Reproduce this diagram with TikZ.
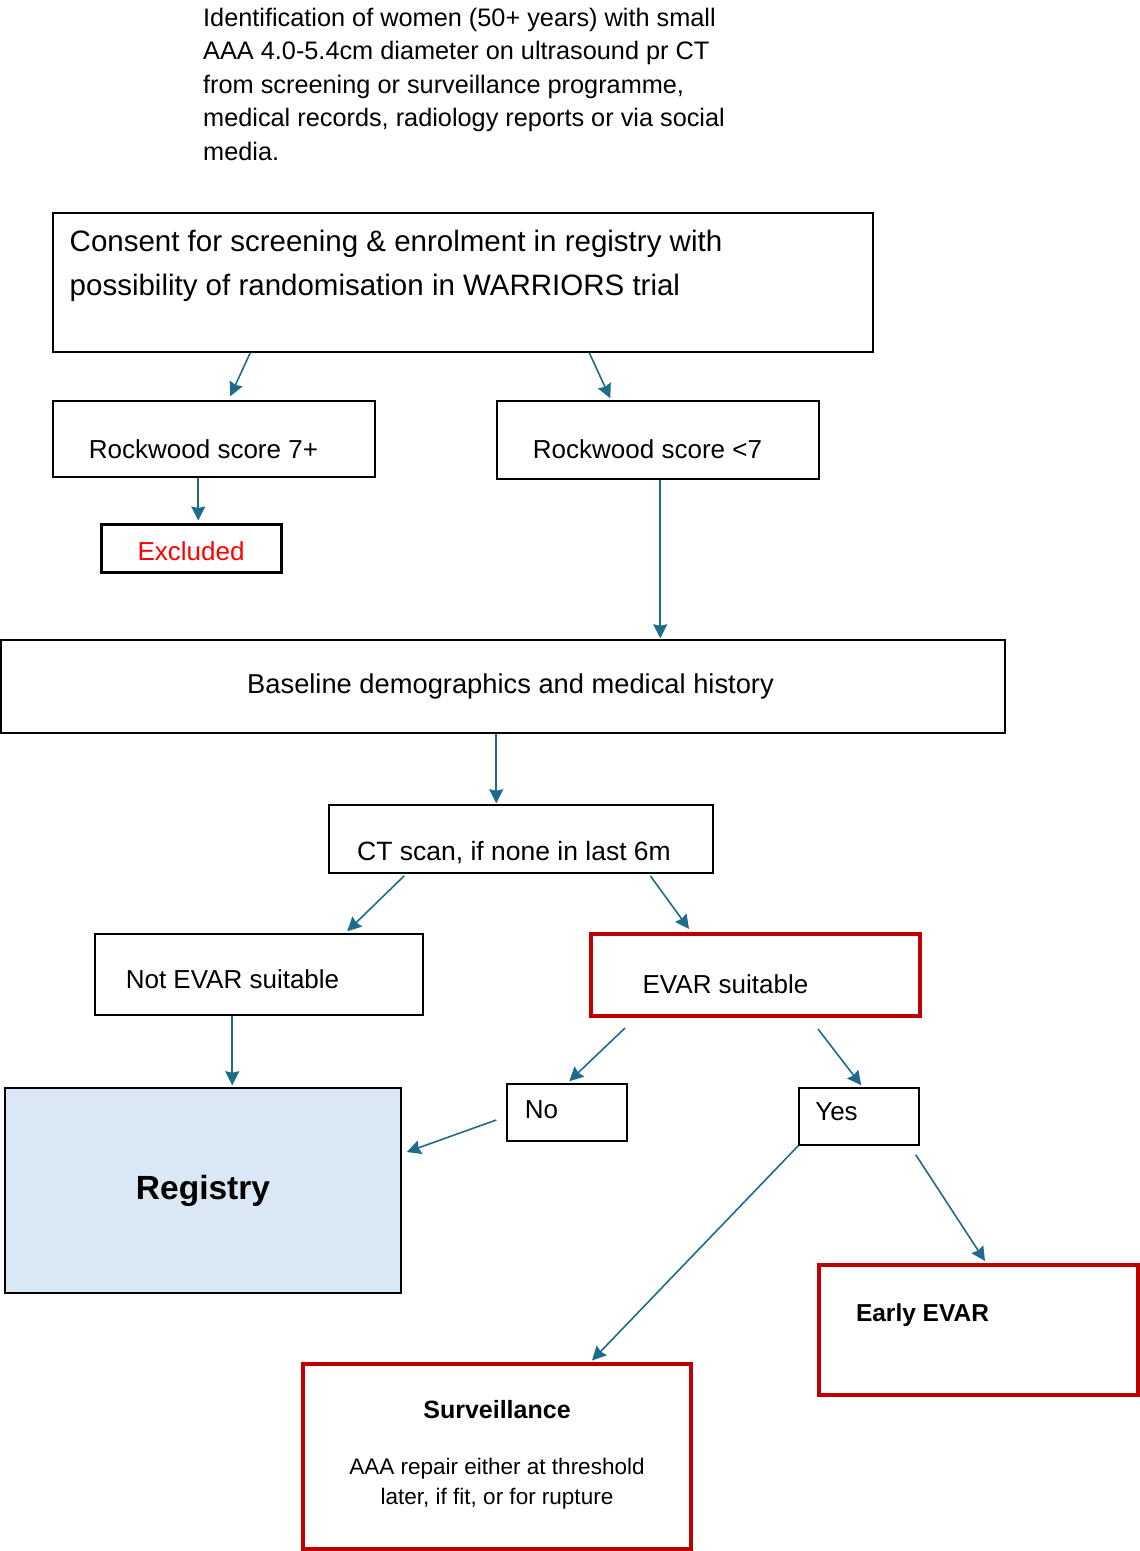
\documentclass[tikz,border=0pt]{standalone}
\usepackage{fontspec}
\setmainfont{Liberation Sans}
\usetikzlibrary{arrows.meta,positioning}

\definecolor{linkc}{HTML}{1F6B8C}
\definecolor{warnred}{HTML}{C00000}
\definecolor{regfill}{HTML}{DAE8F5}

\begin{document}
\begin{tikzpicture}[x=1pt,y=-1pt,>={Stealth[length=14pt,width=14pt,inset=1.5pt]}]
        \tikzstyle{box}=[rectangle,draw=black,line width=1.5pt,inner sep=0pt]
        \tikzstyle{redbox}=[rectangle,draw=warnred,line width=4pt,inner sep=0pt]
        \tikzstyle{txt}=[inner sep=0pt,font=\fontsize{26}{30}\selectfont]
        \tikzstyle{link}=[->,draw=linkc,fill=linkc,line width=1.6pt]
        \useasboundingbox (0,0) rectangle (1140,1551);

        \node [txt,anchor=west,align=left,font=\fontsize{25.3}{33.5}\selectfont] (intro) at (203,84)
            {Identification of women (50+ years) with small\\AAA 4.0-5.4cm diameter on ultrasound pr CT\\from screening or surveillance programme,\\medical records, radiology reports or via social\\media.};

        \node [box,minimum width=820,minimum height=139,
            label={[txt,align=left,xshift=-67pt,yshift=17pt,font=\fontsize{29.5}{44}\selectfont]center:Consent for screening \& enrolment in registry with\\possibility of randomisation in WARRIORS trial}] (cons) at (463,282.5) {};

        \node [box,minimum width=322,minimum height=76,
            label={[txt,xshift=-10.5pt,yshift=-10pt]center:Rockwood score 7+}] (rockhi) at (214,439) {};
        \node [box,minimum width=322,minimum height=78,
            label={[txt,xshift=-10.5pt,yshift=-9pt]center:Rockwood score <7}] (rocklo) at (658,440) {};
        \node [box,line width=3pt,minimum width=180,minimum height=48,
            label={[txt,text=red,yshift=-3pt]center:Excluded}] (excl) at (191,548) {}; %out

        \node [box,minimum width=1004,minimum height=93,
            label={[txt,xshift=7.5pt,font=\fontsize{27.3}{30}\selectfont]center:Baseline demographics and medical history}] (base) at (503,686.5) {};
        \node [box,minimum width=384,minimum height=68,
            label={[txt,xshift=-7pt,yshift=-14pt,font=\fontsize{26.5}{30}\selectfont]center:{CT scan, if none in last 6m}}] (ct) at (521,839) {};

        \node [box,minimum width=328,minimum height=81,
            label={[txt,xshift=-26.5pt,yshift=-4.5pt]center:Not EVAR suitable}] (noevar) at (259,974.5) {};
        \node [redbox,minimum width=329,minimum height=82,
            label={[txt,xshift=-30pt,yshift=-9pt]center:EVAR suitable}] (evar) at (755.5,975) {};

        \node [box,minimum width=120,minimum height=57,
            label={[txt,xshift=-25.5pt,yshift=2.5pt]center:No}] (no) at (567,1112.5) {};
        \node [box,minimum width=120,minimum height=57,
            label={[txt,xshift=-22.5pt,yshift=4.5pt]center:Yes}] (yes) at (859,1116.5) {};

        \node [box,fill=regfill,minimum width=396,minimum height=205,
            label={[txt,font=\fontsize{33.5}{40}\selectfont\bfseries]center:Registry}] (reg) at (203,1190.5) {};
        \node [redbox,minimum width=319,minimum height=130,
            label={[txt,xshift=-56pt,yshift=15pt,font=\fontsize{24.5}{30}\selectfont\bfseries]center:Early EVAR}] (early) at (978.5,1330) {};
        \node [redbox,minimum width=388,minimum height=185,
            label={[txt,align=center,yshift=1pt,font=\fontsize{22.5}{30}\selectfont]center:{\fontsize{25}{30}\selectfont\bfseries Surveillance}\\[26pt]AAA repair either at threshold\\later, if fit, or for rupture}] (surv) at (497,1456) {}; %watch

        % connectors
        \draw [link] ([xshift=198pt]cons.south west) -- ([xshift=178pt,yshift=4pt]rockhi.north west);
        \draw [link] ([xshift=537pt]cons.south west) -- ([xshift=114pt,yshift=2pt]rocklo.north west);
        \draw [link] ([xshift=146pt]rockhi.south west) -- ([xshift=146pt,yshift=2pt]rockhi.south west |- excl.north);
        \draw [link] ([xshift=164pt]rocklo.south west) -- ([xshift=660pt,yshift=1pt]base.north west);
        \draw [link] ([xshift=496pt]base.south west) -- ([xshift=168pt,yshift=1pt]ct.north west);
        \draw [link] ([xshift=76pt,yshift=-2pt]ct.south west) -- ([xshift=253pt,yshift=2pt]noevar.north west);
        \draw [link] ([xshift=322pt,yshift=-2pt]ct.south west) -- ([xshift=100pt,yshift=3pt]evar.north west);
        \draw [link] ([xshift=138pt]noevar.south west) -- ([xshift=228pt,yshift=2pt]reg.north west);
        \draw [link] ([xshift=36pt,yshift=-10pt]evar.south west) -- ([xshift=63pt,yshift=2pt]no.north west);
        \draw [link] ([xshift=229pt,yshift=-11pt]evar.south west) -- ([xshift=63pt,yshift=2pt]yes.north west);
        \draw [link] ([xshift=-10pt,yshift=-7.5pt]no.west) -- ([xshift=5pt,yshift=38.5pt]reg.east);
        \draw [link] (yes.south west) -- ([xshift=95pt,yshift=1pt]surv.north);
        \draw [link] ([xshift=-4pt,yshift=-9pt]yes.south east) -- ([xshift=168pt,yshift=2pt]early.north west);
\end{tikzpicture}
\end{document}
